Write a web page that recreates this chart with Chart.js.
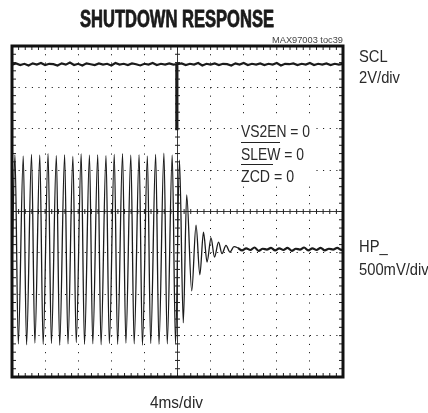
<!DOCTYPE html>
<html>
<head>
<meta charset="utf-8">
<script src="https://cdn.jsdelivr.net/npm/chart.js@4.4.1/dist/chart.umd.min.js"></script>
<style>
  html,body{margin:0;padding:0;background:#fff;}
  #wrap{width:428px;height:413px;position:relative;}
</style>
</head>
<body>
<div id="wrap"><canvas id="c" width="428" height="413"></canvas></div>
<script>
// ---------- DATA (time in ms, 4 ms/div; voltage in divisions) ----------
const titleText = "SHUTDOWN RESPONSE";
const tocText = "MAX97003 toc39";
const xLabel = "4ms/div";
const channelLabels = ["SCL", "2V/div", "HP_", "500mV/div"];
const conditionLabels = ["VS2EN = 0", "SLEW = 0", "ZCD = 0"];

// SCL trace: high level with noise, short dip at shutdown command
const sclTime = [0,0.5,1,1.5,2,2.5,3,3.5,4,4.5,5,5.5,6,6.5,7,7.5,8,8.5,9,9.5,
  10,10.5,11,11.5,12,12.5,13,13.5,14,14.5,15,15.5,16,16.5,17,17.5,18,18.5,19,19.5,
  19.86,19.86,19.98,19.98,
  20.5,21,21.5,22,22.5,23,23.5,24,24.5,25,25.5,26,26.5,27,27.5,28,28.5,29,29.5,
  30,30.5,31,31.5,32,32.5,33,33.5,34,34.5,35,35.5,36,36.5,37,37.5,38,38.5,39,39.5,40];
const sclVolt = [3.55,3.58,3.54,3.57,3.53,3.58,3.55,3.59,3.54,3.57,3.56,3.53,3.58,3.55,3.60,3.54,3.57,3.53,3.58,3.56,
  3.54,3.58,3.55,3.57,3.53,3.59,3.55,3.57,3.54,3.58,3.56,3.53,3.57,3.55,3.59,3.54,3.57,3.55,3.58,3.55,
  3.56,1.99,1.99,3.56,
  3.58,3.54,3.57,3.55,3.59,3.53,3.57,3.55,3.58,3.54,3.57,3.56,3.53,3.58,3.55,3.59,3.54,3.57,3.55,
  3.58,3.54,3.57,3.55,3.59,3.53,3.57,3.56,3.58,3.54,3.57,3.55,3.59,3.54,3.57,3.55,3.58,3.54,3.57,3.55,3.57];

// HP_ output: 1 kHz tone extrema, decaying ringing after shutdown, then settled noisy level
const hpTime = [0,
  0.36,0.76,1.36,1.76,2.36,2.76,3.36,3.76,4.36,4.76,5.36,5.76,6.36,6.76,7.36,7.76,8.36,8.76,9.36,9.76,
  10.36,10.76,11.36,11.76,12.36,12.76,13.36,13.76,14.36,14.76,15.36,15.76,16.36,16.76,17.36,17.76,18.36,18.76,19.36,19.76,
  20.24,20.70,21.11,21.72,22.24,22.70,23.14,23.57,24.05,24.47,24.96,25.38,25.86,26.34,26.83,
  27.3,27.8,28.3,28.8,29.3,29.8,30.3,30.8,31.3,31.8,32.3,32.8,33.3,33.8,34.3,34.8,35.3,35.8,
  36.3,36.8,37.3,37.8,38.3,38.8,39.3,39.8,40];
const hpVolt = [-1.40,
  1.37,-3.20,1.34,-3.22,1.38,-3.18,1.36,-3.21,1.40,-3.19,1.35,-3.23,1.37,-3.20,1.33,-3.17,1.39,-3.21,1.36,-3.20,
  1.37,-3.22,1.35,-3.19,1.38,-3.21,1.40,-3.18,1.36,-3.20,1.37,-3.23,1.34,-3.19,1.38,-3.21,1.41,-3.20,1.36,-3.20,
  1.24,-2.69,0.40,-1.92,-0.33,-1.53,-0.50,-1.22,-0.64,-1.10,-0.74,-1.02,-0.82,-0.98,-0.85,
  -0.88,-0.94,-0.89,-0.93,-0.87,-0.95,-0.90,-0.92,-0.88,-0.94,-0.89,-0.93,-0.88,-0.95,
  -0.90,-0.92,-0.87,-0.94,-0.89,-0.93,-0.88,-0.94,-0.90,-0.92,-0.88,-0.93,-0.90];

// graticule: 10 x 8 divisions, 5 minor per division
const xMin = 0, xMax = 40, xDiv = 4;
const yMin = -4, yMax = 4, yDiv = 1;

// ---------- helpers ----------
const FONT_N = "'Liberation Sans Narrow','Liberation Sans',Arial,sans-serif";

function fitText(ctx, txt, x, y, font, width, color, scaleOverride, strokeW) {
  ctx.save();
  ctx.font = font;
  ctx.fillStyle = color;
  ctx.strokeStyle = color;
  ctx.textAlign = 'left';
  ctx.textBaseline = 'alphabetic';
  const w = ctx.measureText(txt).width;
  const s = scaleOverride || (width ? width / w : 1);
  ctx.translate(x, y);
  ctx.scale(s, 1);
  ctx.fillText(txt, 0, 0);
  if (strokeW) { ctx.lineWidth = strokeW; ctx.lineJoin = 'round'; ctx.strokeText(txt, 0, 0); }
  ctx.restore();
  return {w: w * s, s: s};
}

const graticule = {
  id: 'graticule',
  beforeDatasetsDraw(chart) {
    const ctx = chart.ctx, xs = chart.scales.x, ys = chart.scales.y, a = chart.chartArea;
    ctx.save();
    // center crosshair
    const cx = xs.getPixelForValue((xMin + xMax) / 2);
    const cy = ys.getPixelForValue((yMin + yMax) / 2);
    ctx.strokeStyle = '#3a3a3a';
    ctx.lineWidth = 1;
    ctx.beginPath();
    ctx.moveTo(a.left, cy); ctx.lineTo(a.right, cy);
    ctx.moveTo(cx, a.top); ctx.lineTo(cx, a.bottom);
    ctx.stroke();
    ctx.strokeStyle = '#222';
    ctx.beginPath();
    for (let v = xMin; v <= xMax + 1e-9; v += xDiv / 5) {
      const px = xs.getPixelForValue(v);
      ctx.moveTo(px, cy - 2.5); ctx.lineTo(px, cy + 2.5);
      ctx.moveTo(px, a.top); ctx.lineTo(px, a.top + 4);
      ctx.moveTo(px, a.bottom); ctx.lineTo(px, a.bottom - 4);
    }
    for (let v = yMin; v <= yMax + 1e-9; v += yDiv / 5) {
      const py = ys.getPixelForValue(v);
      ctx.moveTo(cx - 2.5, py); ctx.lineTo(cx + 2.5, py);
      ctx.moveTo(a.left, py); ctx.lineTo(a.left + 4, py);
      ctx.moveTo(a.right, py); ctx.lineTo(a.right - 4, py);
    }
    ctx.stroke();
    // white box behind condition text
    ctx.fillStyle = '#fff';
    ctx.fillRect(239, 120, 74, 66);
    ctx.restore();
  },
  afterDatasetsDraw(chart) {
    const ctx = chart.ctx, a = chart.chartArea;
    ctx.save();
    ctx.strokeStyle = '#111';
    ctx.lineWidth = 3;
    ctx.strokeRect(a.left, a.top, a.right - a.left, a.bottom - a.top);
    ctx.restore();
  },
  afterDraw(chart) {
    const ctx = chart.ctx, a = chart.chartArea;
    // title
    fitText(ctx, titleText, 80, 27, "bold 23px " + FONT_N, 194, '#1a1a1a', 0, 0.8);
    // toc
    fitText(ctx, tocText, a.right - 71, 43, "9.5px " + FONT_N, 71, '#444');
    // channel labels
    const lblFont = "16.5px " + FONT_N;
    const r = fitText(ctx, channelLabels[1], 359, 83, lblFont, 41, '#2a2a2a');
    fitText(ctx, channelLabels[0], 359, 62, lblFont, 0, '#2a2a2a', r.s);
    fitText(ctx, channelLabels[2], 359, 252, lblFont, 0, '#2a2a2a', r.s);
    fitText(ctx, channelLabels[3], 359, 275, lblFont, 0, '#2a2a2a', r.s);
    // conditions
    fitText(ctx, conditionLabels[0], 241, 137, lblFont, 69, '#2a2a2a');
    fitText(ctx, conditionLabels[1], 241, 160, lblFont, 63, '#2a2a2a');
    fitText(ctx, conditionLabels[2], 241, 182, lblFont, 53, '#2a2a2a');
    ctx.save();
    ctx.strokeStyle = '#222';
    ctx.lineWidth = 1.2;
    ctx.beginPath();
    ctx.moveTo(241, 142.5); ctx.lineTo(280, 142.5);
    ctx.moveTo(241, 164.5); ctx.lineTo(273, 164.5);
    ctx.stroke();
    ctx.restore();
    // x label
    fitText(ctx, xLabel, 150, 408, lblFont, 53, '#2a2a2a');
  }
};

const toPts = (xs, ys) => xs.map((t, i) => ({x: t, y: ys[i]}));
const settleStart = hpTime[hpTime.indexOf(27.3)];

new Chart(document.getElementById('c'), {
  type: 'line',
  data: {
    datasets: [
      {label: 'SCL', data: toPts(sclTime, sclVolt), borderColor: '#1b1b1b', borderWidth: 2.2,
       pointRadius: 0, tension: 0},
      {label: 'HP_', data: toPts(hpTime, hpVolt), borderColor: '#1b1b1b', borderWidth: 1.3,
       pointRadius: 0, cubicInterpolationMode: 'monotone',
       segment: {borderWidth: c => (c.p0.parsed.x >= settleStart ? 2.2 : 1.3)}}
    ]
  },
  options: {
    responsive: false,
    animation: false,
    devicePixelRatio: 1,
    layout: {padding: {left: 12, right: 85, top: 46, bottom: 36}},
    plugins: {legend: {display: false}, tooltip: {enabled: false}, title: {display: false}},
    scales: {
      x: {type: 'linear', min: xMin, max: xMax,
          ticks: {display: false, stepSize: xDiv},
          grid: {color: '#000', lineWidth: 1, drawTicks: false},
          border: {display: false, dash: [1, 7.275]}},
      y: {type: 'linear', min: yMin, max: yMax,
          ticks: {display: false, stepSize: yDiv},
          grid: {color: '#000', lineWidth: 1, drawTicks: false},
          border: {display: false, dash: [1, 5.62]}}
    }
  },
  plugins: [graticule]
});
</script>
</body>
</html>
